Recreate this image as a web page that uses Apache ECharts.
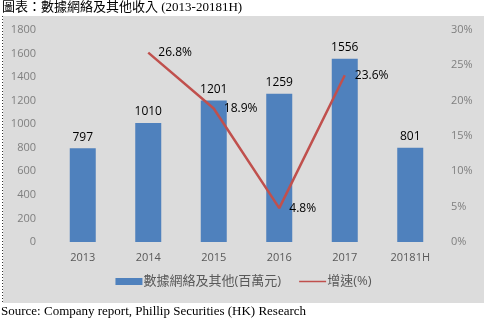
<!DOCTYPE html>
<html>
<head>
<meta charset="utf-8">
<script src="https://cdn.jsdelivr.net/npm/echarts@6/dist/echarts.min.js"></script>
<style>
html,body{margin:0;padding:0;background:#fff;}
#chart{width:487px;height:323px;}
</style>
</head>
<body>
<div id="chart"></div>
<script>
// Data: data network & other revenue (HK$ m) and its growth rate
const categories = ['2013', '2014', '2015', '2016', '2017', '20181H'];
const revenue = [797, 1010, 1201, 1259, 1556, 801];
const growth = ['-', 26.8, 18.9, 4.8, 23.6, '-'];
const leftTicks = [0, 1800, 200];
const rightTicks = [0, 30, 5];

const chart = echarts.init(document.getElementById('chart'));
const sans = '"Open Sans", "Noto Sans CJK TC", sans-serif';
const serif = '"Liberation Serif", "Noto Sans CJK TC", serif';

chart.setOption({
  animation: false,
  backgroundColor: '#ffffff',
  graphic: [
    { type: 'rect', z: -10, shape: { x: 3, y: 16, width: 481, height: 287 }, style: { fill: '#dcdcdc' } },
    { type: 'line', z: 10, shape: { x1: 2.5, y1: 16, x2: 2.5, y2: 303 }, style: { stroke: '#333', lineWidth: 1, lineDash: [1, 2] } },
    { type: 'text', left: 2, top: 1, style: { text: '圖表：數據網絡及其他收入 (2013-20181H)', font: '13px ' + serif, fill: '#000' } },
    { type: 'text', left: 1, top: 305, style: { text: 'Source: Company report, Phillip Securities (HK) Research', font: '13px ' + serif, fill: '#000' } }
  ],
  grid: { left: 50, right: 44, top: 30, bottom: 81 },
  legend: {
    bottom: 30,
    left: 'center',
    itemGap: 18,
    itemWidth: 27,
    itemHeight: 7,
    textStyle: { color: '#595959', fontSize: 13, fontFamily: sans, padding: [0, 0, 0, -4] },
    data: [
      { name: '數據網絡及其他(百萬元)', icon: 'rect' },
      { name: '增速(%)', icon: 'path://M0,0h0.01M0,2.6H30V4.4H0ZM30,7h0.01' }
    ]
  },
  xAxis: {
    type: 'category',
    data: categories,
    axisLine: { show: false },
    axisTick: { show: false },
    axisLabel: { color: '#595959', fontSize: 11, fontFamily: sans, margin: 10 }
  },
  yAxis: [
    {
      type: 'value', min: leftTicks[0], max: leftTicks[1], interval: leftTicks[2],
      splitLine: { show: false }, axisLine: { show: false }, axisTick: { show: false },
      axisLabel: { color: '#7f7f7f', fontSize: 11, fontFamily: sans, margin: 14, formatter: v => String(v) }
    },
    {
      type: 'value', min: rightTicks[0], max: rightTicks[1], interval: rightTicks[2],
      splitLine: { show: false }, axisLine: { show: false }, axisTick: { show: false },
      axisLabel: { color: '#7f7f7f', fontSize: 11, fontFamily: sans, margin: 8, formatter: '{value}%' }
    }
  ],
  series: [
    {
      name: '數據網絡及其他(百萬元)',
      type: 'bar',
      data: revenue,
      barWidth: 26,
      itemStyle: { color: '#4f81bd' },
      label: { show: true, position: 'top', color: '#000', fontSize: 12, fontFamily: sans, distance: 5 }
    },
    {
      name: '增速(%)',
      type: 'line',
      yAxisIndex: 1,
      data: growth,
      symbol: 'circle',
      symbolSize: 0.1,
      showSymbol: true,
      lineStyle: { color: '#c0504d', width: 2.5 },
      itemStyle: { color: '#c0504d' },
      label: {
        show: true, position: 'right', color: '#000', fontSize: 12, fontFamily: sans, distance: 10,
        formatter: p => (typeof p.value === 'number' ? p.value.toFixed(1) + '%' : '')
      }
    }
  ]
});
</script>
</body>
</html>
